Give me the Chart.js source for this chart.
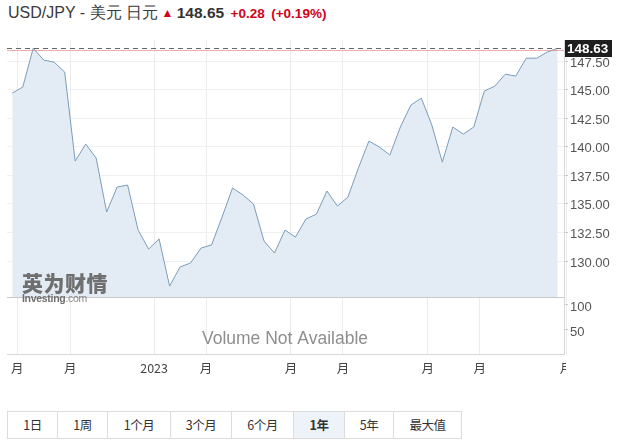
<!DOCTYPE html>
<html>
<head>
<meta charset="utf-8">
<script src="https://cdn.jsdelivr.net/npm/chart.js@4"></script>
<style>
  body { margin: 0; background: #fff; font-family: "Liberation Sans", Arial, sans-serif; }
  .wrap { position: relative; width: 623px; height: 441px; overflow: hidden; }
  .title { position: absolute; left: 8px; top: 3px; font-size: 16px; color: #3a3a3a; white-space: nowrap; }
  .title .arrow { color: #d0021b; font-size: 12px; margin-left: -1px; position: relative; top: -1px; }
  .title .last { font-weight: bold; color: #333; font-size: 15.5px; margin-left: -1px; }
  .title .chg { color: #d0021b; font-weight: bold; font-size: 13.5px; margin-left: 2px; }
  canvas { position: absolute; left: 0; top: 0; }
  .mark { position: absolute; left: 22px; top: 272px; color: #6f6f6f; line-height: 1; pointer-events: none; }
  .mark .cn { font-family: "Noto Sans CJK SC"; font-weight: 900; font-size: 21px; letter-spacing: 0.5px; }
  .mark .en { font-size: 10.5px; font-weight: bold; margin-top: 0px; letter-spacing: -0.3px; }
  .mark .en span { font-weight: normal; color: #888; }
  .tabs { position: absolute; left: 7px; top: 411px; display: flex; border: 1px solid #dcdcdc; }
  .tabs div { height: 26px; line-height: 26px; text-align: center; font-size: 12.5px; color: #333; border-left: 1px solid #dcdcdc; font-family: "Noto Sans CJK SC"; letter-spacing: -0.5px; }
  .tabs div:first-child { border-left: none; }
  .tabs div.on { background: #eef3f9; font-weight: bold; }
</style>
</head>
<body>
<div class="wrap">
  <div class="title">USD/JPY - 美元 日元 <span class="arrow">&#9650;</span> <span class="last">148.65</span> <span class="chg">+0.28</span> <span class="chg">(+0.19%)</span></div>
  <canvas id="chart" width="623" height="395"></canvas>
  <div class="mark"><div class="cn">英为财情</div><div class="en">Investing<span>.com</span></div></div>
  <div class="tabs">
    <div style="width:49px">1日</div>
    <div style="width:49px">1周</div>
    <div style="width:62px">1个月</div>
    <div style="width:60px">3个月</div>
    <div style="width:61px">6个月</div>
    <div style="width:50px" class="on">1年</div>
    <div style="width:48px">5年</div>
    <div style="width:67px">最大值</div>
  </div>
</div>
<script>
// weekly closes, one year
const prices = [
    144.70, 145.23, 148.64, 147.59, 147.41, 146.54, 138.75, 140.24, 139.01, 134.29,
    136.48, 136.65, 132.71, 131.05, 131.93, 127.81, 129.48, 129.83, 131.14, 131.40,
    133.85, 136.39, 135.78, 134.99, 131.75, 130.70, 132.71, 132.10, 133.68, 134.11,
    136.13, 134.81, 135.60, 138.14, 140.50, 139.98, 139.28, 141.73, 143.65, 144.26,
    141.90, 138.66, 141.73, 141.11, 141.73, 144.88, 145.31, 146.36, 146.19, 147.76,
    147.76, 148.29, 148.63
];
const lastPrice = 148.63;
const priceTicks = [130, 132.5, 135, 137.5, 140, 142.5, 145, 147.5];
const volumeTicks = [50, 100];
// month boundaries, in week index units
const monthPos = [0.48, 5.52, 13.52, 18.48, 26.57, 31.52, 39.62, 44.57, 52.8];
const monthLabels = ['月', '月', '2023', '月', '月', '月', '月', '月', '月'];

const points = prices.map((v, i) => ({ x: i, y: v }));

const overlay = {
    id: 'overlay',
    afterDatasetsDraw(chart) {
        const ctx = chart.ctx;
        const area = chart.chartArea;
        const y = chart.scales.y;
        const yb = Math.round(y.bottom) + 0.5;
        ctx.save();
        // panel separator
        ctx.strokeStyle = '#c9c9c9';
        ctx.lineWidth = 1;
        ctx.beginPath();
        ctx.moveTo(area.left, yb);
        ctx.lineTo(area.right, yb);
        ctx.stroke();
        // last price line
        const py = Math.round(y.getPixelForValue(lastPrice)) + 0.5;
        ctx.strokeStyle = 'rgba(230,120,120,0.6)';
        ctx.beginPath();
        ctx.moveTo(area.left, py + 2);
        ctx.lineTo(area.right, py + 2);
        ctx.stroke();
        ctx.strokeStyle = '#666';
        ctx.setLineDash([5, 4]);
        ctx.beginPath();
        ctx.moveTo(area.left, py);
        ctx.lineTo(area.right, py);
        ctx.stroke();
        ctx.setLineDash([]);
        // volume note
        const v = chart.scales.yv;
        ctx.fillStyle = '#8e8e8e';
        ctx.font = '17.5px "Liberation Sans", Arial, sans-serif';
        ctx.textAlign = 'center';
        ctx.textBaseline = 'middle';
        ctx.fillText('Volume Not Available', 285, v.bottom - 15);
        ctx.restore();
    },
    afterDraw(chart) {
        const ctx = chart.ctx;
        const y = chart.scales.y;
        const py = Math.round(y.getPixelForValue(lastPrice));
        ctx.save();
        // last month label is cut at the axis edge
        ctx.fillStyle = '#fff';
        ctx.fillRect(566, chart.scales.x.top + 2, 57, 20);
        ctx.fillStyle = '#1e1e1e';
        ctx.fillRect(565, py - 8, 47, 17);
        ctx.fillStyle = '#fff';
        ctx.font = 'bold 13.5px "Liberation Sans", Arial, sans-serif';
        ctx.textAlign = 'left';
        ctx.textBaseline = 'middle';
        ctx.fillText(lastPrice.toFixed(2), 567, py + 1);
        ctx.restore();
    }
};

new Chart(document.getElementById('chart'), {
    type: 'line',
    data: {
        datasets: [{
            data: points,
            yAxisID: 'y',
            borderColor: '#7b9cba',
            borderWidth: 1,
            backgroundColor: '#e3ecf5',
            fill: 'start',
            pointRadius: 0,
            tension: 0
        }]
    },
    options: {
        responsive: false,
        animation: false,
        layout: { padding: { top: 40, left: 7, right: 0, bottom: 19 } },
        plugins: { legend: { display: false }, tooltip: { enabled: false } },
        scales: {
            x: {
                type: 'linear',
                min: -0.5,
                max: 52.6,
                afterBuildTicks(scale) {
                    scale.ticks = monthPos.map(v => ({ value: v }));
                },
                afterFit(scale) { scale.height = 22; },
                ticks: {
                    autoSkip: false,
                    maxRotation: 0,
                    padding: 7,
                    color: '#444',
                    font: { size: 12.5, family: '"Noto Sans CJK SC", "Liberation Sans"' },
                    callback: (v, i) => monthLabels[i]
                },
                grid: { color: '#ececec', drawTicks: false },
                border: { color: '#d6d6d6' }
            },
            y: {
                type: 'linear',
                position: 'right',
                stack: 'panes',
                stackWeight: 257,
                min: 126.85,
                max: 149.35,
                afterBuildTicks(scale) {
                    scale.ticks = priceTicks.map(v => ({ value: v }));
                },
                afterFit(scale) { scale.width = 59; },
                ticks: {
                    padding: 2,
                    labelOffset: 2,
                    color: '#555',
                    font: { size: 13, family: '"Liberation Sans", Arial' },
                    callback: v => v.toFixed(2)
                },
                grid: { color: '#f0f0f0', tickLength: 4, tickColor: '#ccc' },
                border: { color: '#d6d6d6' }
            },
            yv: {
                type: 'linear',
                position: 'right',
                stack: 'panes',
                stackWeight: 57,
                min: 0,
                max: 114,
                afterBuildTicks(scale) {
                    scale.ticks = volumeTicks.map(v => ({ value: v }));
                },
                afterFit(scale) { scale.width = 59; },
                ticks: {
                    padding: 2,
                    labelOffset: 3,
                    color: '#555',
                    font: { size: 13, family: '"Liberation Sans", Arial' }
                },
                grid: { drawOnChartArea: false, tickLength: 4, tickColor: '#ccc' },
                border: { color: '#d6d6d6' }
            }
        }
    },
    plugins: [overlay]
});
</script>
</body>
</html>
